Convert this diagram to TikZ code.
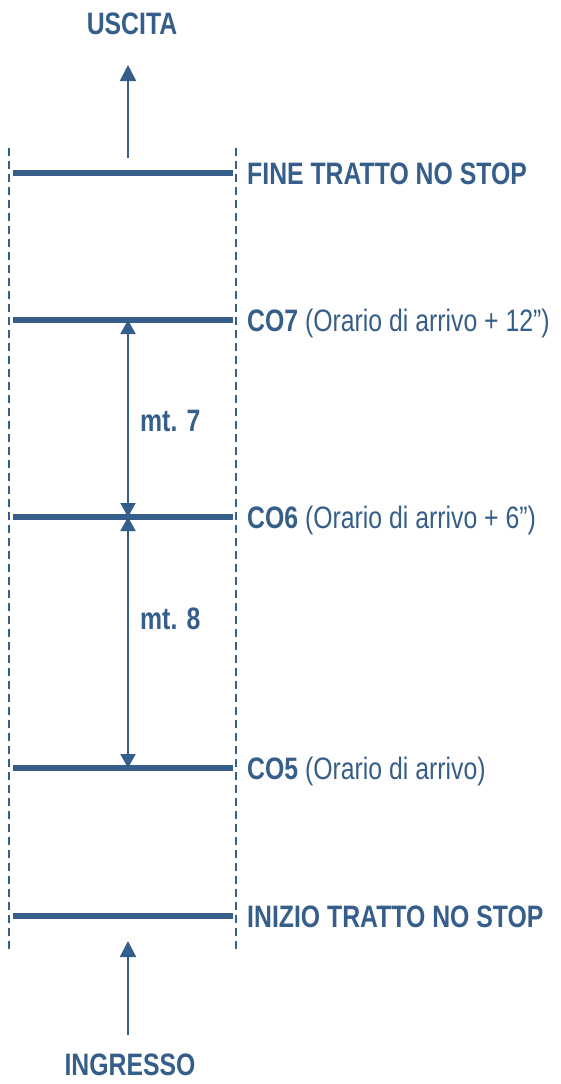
\documentclass[tikz,border=0pt]{standalone}
\usepackage{fontspec}
\setmainfont{Liberation Sans}[FakeStretch=0.8]
\usetikzlibrary{arrows.meta}
\definecolor{nsblue}{RGB}{54,94,138}
\tikzset{
    guide/.style={nsblue, line width=1.6pt, dash pattern=on 8pt off 5pt},
    level/.style={nsblue, line width=6pt},
    flow/.style={nsblue, line width=2pt, -{Triangle[width=16pt,length=16pt]}},
    span/.style={nsblue, line width=2pt,
        {Triangle[width=15pt,length=14pt]}-{Triangle[width=15pt,length=14pt]}},
    lbl/.style={text=nsblue, anchor=base west, inner sep=0pt,
        font=\fontsize{31}{34}\selectfont},
    head/.style={text=nsblue, anchor=base, inner sep=0pt,
        font=\fontsize{31}{34}\selectfont\bfseries},
}

\begin{document}
\begin{tikzpicture}[x=1pt,y=-1pt]
\useasboundingbox (0,0) rectangle (560,1084);
% vertical guides
\draw[guide] (9,148) -- (9,953);
\draw[guide] (236,148) -- (236,953);
% levels
\draw[level] (13,173) -- (233,173);
\draw[level] (13,320) -- (233,320);
\draw[level] (13,517) -- (233,517);
\draw[level] (13,768) -- (233,768);
\draw[level] (13,916) -- (233,916);
\node[lbl] (fine) at (247,184) {\bfseries FINE TRATTO NO STOP};
\node[lbl] (co7) at (247,331) {\bfseries CO7 \mdseries(Orario di arrivo + 12”)};
\node[lbl] (co6) at (247,528) {\bfseries CO6 \mdseries(Orario di arrivo + 6”)};
\node[lbl] (co5) at (247,779) {\bfseries CO5 \mdseries(Orario di arrivo)};
\node[lbl] (inizio) at (247,927) {\bfseries INIZIO TRATTO NO STOP};
% exit and entry
\node[head] (uscita) at (132,34) {USCITA};
\node[head] (ingresso) at (130,1075) {INGRESSO};
\coordinate (outB) at (128,158);
\coordinate (outT) at (128,65);
\coordinate (inB) at (128,1035);
\coordinate (inT) at (128,941);
\draw[flow] (outB) -- (outT);
\draw[flow] (inB) -- (inT);
% distances
\coordinate (d7) at (128,320);
\coordinate (d6) at (128,517);
\coordinate (d5) at (128,768);
\draw[span] (d7) -- (d6);
\draw[span] (d6) -- (d5);
\node[lbl] (mt7) at (140,431) {\bfseries mt. 7};
\node[lbl] (mt8) at (140,629) {\bfseries mt. 8};
\end{tikzpicture}
\end{document}
